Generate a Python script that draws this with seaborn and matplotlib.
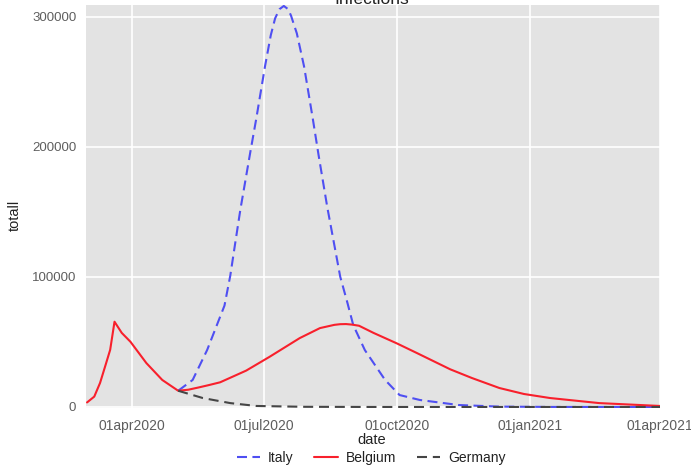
import matplotlib
matplotlib.use("Agg")
import matplotlib.pyplot as plt
import pandas as pd
import seaborn as sns

# Series values (total infections) by date
belgium_dates = [
    "2020-03-01", "2020-03-06", "2020-03-10", "2020-03-14", "2020-03-17",
    "2020-03-20", "2020-03-25", "2020-03-31", "2020-04-11", "2020-04-22",
    "2020-05-03", "2020-05-10", "2020-05-17", "2020-05-24", "2020-06-01",
    "2020-06-19", "2020-07-05", "2020-07-26", "2020-08-09", "2020-08-19",
    "2020-08-23", "2020-08-27", "2020-08-31", "2020-09-05", "2020-09-15",
    "2020-10-01", "2020-10-15", "2020-11-07", "2020-11-22", "2020-12-11",
    "2020-12-28", "2021-01-15", "2021-02-18", "2021-04-01",
]
belgium_totall = [
    3500, 8000, 18500, 33000, 44000,
    65600, 57000, 50200, 33800, 20800,
    12500, 13300, 15000, 16800, 19000,
    28000, 38500, 53000, 60700, 63200,
    63700, 63800, 63400, 62500, 57000,
    49000, 41500, 29000, 22300, 14600,
    10000, 6900, 3000, 800,
]

italy_dates = [
    "2020-05-03", "2020-05-13", "2020-05-23", "2020-06-04", "2020-06-08",
    "2020-06-11", "2020-06-15", "2020-06-22", "2020-06-26", "2020-06-29",
    "2020-07-02", "2020-07-06", "2020-07-09", "2020-07-12", "2020-07-15",
    "2020-07-18", "2020-07-20", "2020-07-24", "2020-07-29", "2020-08-01",
    "2020-08-04", "2020-08-08", "2020-08-14", "2020-08-23", "2020-08-28",
    "2020-09-01", "2020-09-09", "2020-09-23", "2020-10-03", "2020-10-17",
    "2020-11-13", "2020-12-11", "2021-01-15", "2021-04-01",
]
italy_totall = [
    12500, 20800, 43800, 78000, 101000,
    123000, 152000, 197000, 222000, 242000,
    262000, 286000, 299000, 306000, 308500,
    306000, 301000, 287400, 262000, 242000,
    222000, 194000, 154000, 100200, 80000,
    63000, 43800, 20800, 9200, 5400,
    1500, 300, 50, 0,
]

germany_dates = [
    "2020-05-03", "2020-05-20", "2020-06-08", "2020-06-26", "2020-07-29",
    "2020-09-17", "2021-04-01",
]
germany_totall = [12500, 6900, 3000, 800, 150, 20, 0]

countries = ["Italy", "Belgium", "Germany"]
colors = ["#4f4ff2", "#f8202c", "#454545"]

tick_dates = ["2020-04-01", "2020-07-01", "2020-10-01", "2021-01-01", "2021-04-01"]
tick_labels = ["01apr2020", "01jul2020", "01oct2020", "01jan2021", "01apr2021"]
y_ticks = [0, 100000, 200000, 300000]
y_tick_labels = ["0", "100000", "200000", "300000"]

frames = []
for name, d, v in [("Italy", italy_dates, italy_totall),
                   ("Belgium", belgium_dates, belgium_totall),
                   ("Germany", germany_dates, germany_totall)]:
    frames.append(pd.DataFrame({"date": pd.to_datetime(d), "totall": v, "country": name}))
df = pd.concat(frames, ignore_index=True)

sns.set_theme(style="darkgrid", rc={
    "axes.facecolor": "#e3e3e3",
    "figure.facecolor": "white",
    "grid.color": "white",
    "grid.linewidth": 1.2,
})
plt.rcParams["font.family"] = ["Liberation Sans", "DejaVu Sans"]

W, H = 691, 469
fig = plt.figure(figsize=(W / 100, H / 100), dpi=100)
left, right, top, bottom = 86, 660, 5, 408
ax = fig.add_axes([left / W, 1 - bottom / H, (right - left) / W, (bottom - top) / H])

palette = dict(zip(countries, colors))
dashes = {"Italy": (4.8, 2.6), "Belgium": "", "Germany": (4.8, 2.8)}
sns.lineplot(data=df, x="date", y="totall", hue="country", style="country",
             hue_order=countries, style_order=countries, palette=palette,
             dashes=dashes, linewidth=1.5, estimator=None, ax=ax)

ax.set_xlim(pd.Timestamp("2020-02-29 07:00"), pd.Timestamp("2021-04-01"))
ax.set_ylim(-770, 309230)

ax.set_xticks(pd.to_datetime(tick_dates))
ax.set_xticklabels(tick_labels)
ax.set_yticks(y_ticks)
ax.set_yticklabels(y_tick_labels)
ax.tick_params(axis="both", length=5, width=1, color="#8a8a8a",
               labelcolor="#5e5e5e", direction="out")
ax.tick_params(axis="x", labelsize=10, pad=3)
ax.tick_params(axis="y", labelsize=9.5, pad=2)
for s in ax.spines.values():
    s.set_visible(False)

ax.set_xlabel("date", fontsize=10.5, color="#222222")
ax.xaxis.label.set_va("center")
ax.xaxis.set_label_coords((372 - left) / (right - left), -(440 - bottom) / (bottom - top))
ax.set_ylabel("totall", fontsize=10.5, color="#222222")
ax.yaxis.label.set_va("center")
ax.yaxis.set_label_coords(-(left - 15) / (right - left), (bottom - 215) / (bottom - top))

handles, labels = ax.get_legend_handles_labels()
pairs = [(h, l) for h, l in zip(handles, labels) if l in countries]
if ax.get_legend() is not None:
    ax.get_legend().remove()
fig.legend([p[0] for p in pairs], [p[1] for p in pairs], loc="center",
           bbox_to_anchor=(371 / W, 1 - 458 / H), ncol=3, frameon=False,
           fontsize=10, handlelength=1.7, columnspacing=1.5, handletextpad=0.55,
           labelcolor="#222222")

fig.text(372 / W, 1 - 4 / H, "Infections", ha="center", va="baseline",
         fontsize=12.5, color="#222222")

fig.savefig("out.png", dpi=100)
